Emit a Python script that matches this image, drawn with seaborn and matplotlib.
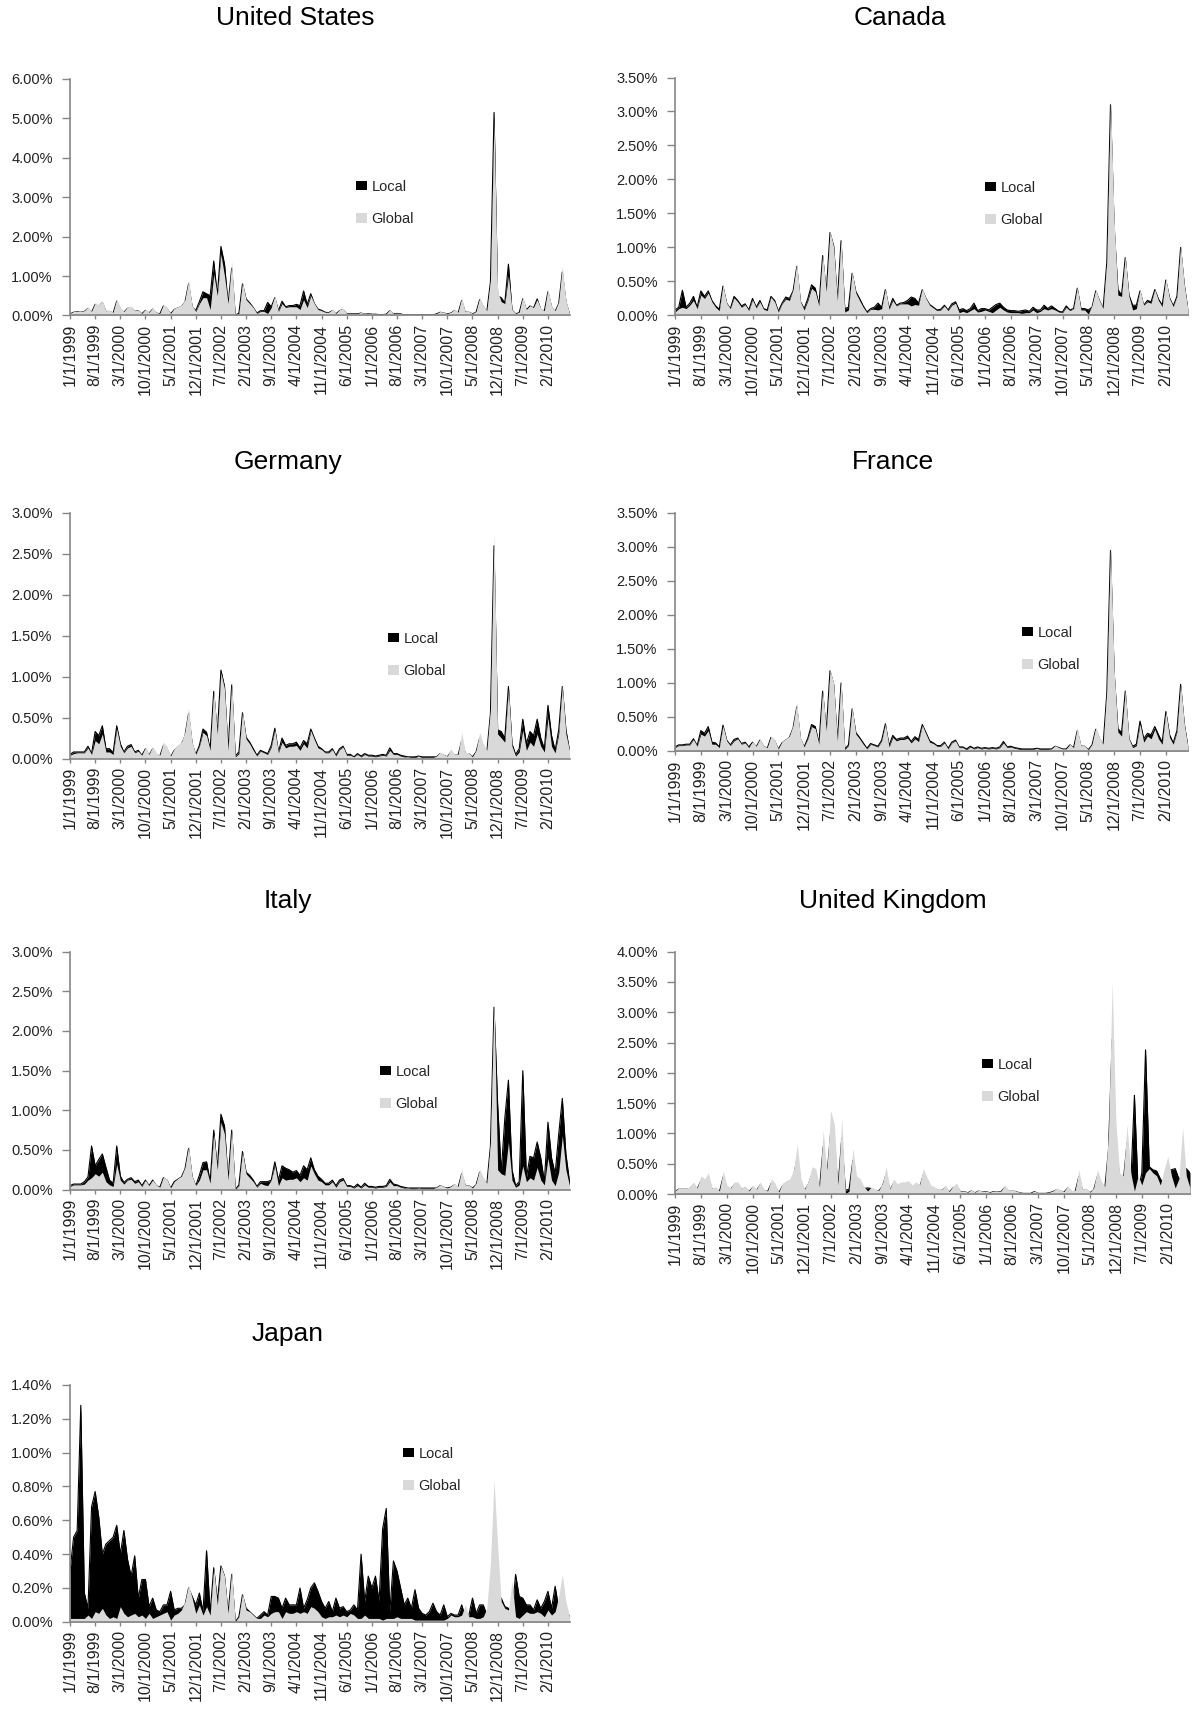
import numpy as np
import pandas as pd
import matplotlib
matplotlib.use('Agg')
import matplotlib.pyplot as plt
import seaborn as sns
from matplotlib.patches import Patch
from matplotlib.ticker import FuncFormatter, MultipleLocator

W, H = 1194, 1711

# x axis: monthly observations Jan 1999 - Aug 2010
months = pd.date_range('1999-01-01', periods=140, freq='MS')
tick_idx = list(range(0, 140, 7))
tick_labels = [f'{d.month}/1/{d.year}' for d in months[tick_idx]]

# values in percent
us_global = [
    0.05, 0.10, 0.10, 0.10, 0.12, 0.22, 0.10, 0.32, 0.27, 0.38, 0.12, 0.13, 0.08, 0.42,
    0.20, 0.10, 0.22, 0.23, 0.12, 0.14, 0.05, 0.16, 0.08, 0.20, 0.08, 0.05, 0.28, 0.20,
    0.05, 0.18, 0.22, 0.26, 0.40, 0.90, 0.25, 0.10, 0.30, 0.45, 0.45, 0.15, 1.05, 0.50,
    1.55, 1.00, 0.30, 1.38, 0.00, 0.05, 0.85, 0.40, 0.30, 0.20, 0.05, 0.10, 0.10, 0.05,
    0.20, 0.50, 0.10, 0.30, 0.20, 0.22, 0.22, 0.22, 0.15, 0.40, 0.20, 0.50, 0.30, 0.15,
    0.12, 0.08, 0.08, 0.15, 0.05, 0.15, 0.18, 0.05, 0.05, 0.05, 0.05, 0.08, 0.04, 0.05,
    0.04, 0.04, 0.03, 0.03, 0.04, 0.15, 0.05, 0.06, 0.05, 0.02, 0.02, 0.02, 0.02, 0.02,
    0.03, 0.02, 0.02, 0.02, 0.05, 0.10, 0.08, 0.05, 0.08, 0.15, 0.08, 0.45, 0.10, 0.10,
    0.05, 0.10, 0.45, 0.25, 0.12, 0.90, 4.95, 0.60, 0.35, 0.30, 1.00, 0.15, 0.05, 0.08,
    0.48, 0.15, 0.25, 0.20, 0.40, 0.18, 0.12, 0.68, 0.25, 0.12, 0.35, 1.25, 0.40, 0.05]
us_local = [
    0.04, 0.08, 0.09, 0.08, 0.10, 0.18, 0.08, 0.28, 0.22, 0.33, 0.10, 0.10, 0.06, 0.36,
    0.16, 0.08, 0.18, 0.20, 0.10, 0.12, 0.04, 0.13, 0.06, 0.16, 0.06, 0.04, 0.24, 0.17,
    0.04, 0.15, 0.19, 0.22, 0.34, 0.80, 0.22, 0.12, 0.35, 0.60, 0.55, 0.50, 1.38, 0.50,
    1.75, 1.30, 0.28, 1.20, 0.00, 0.06, 0.80, 0.42, 0.32, 0.20, 0.06, 0.12, 0.12, 0.33,
    0.22, 0.45, 0.12, 0.36, 0.22, 0.25, 0.25, 0.28, 0.25, 0.62, 0.28, 0.55, 0.30, 0.16,
    0.13, 0.08, 0.07, 0.12, 0.04, 0.12, 0.15, 0.04, 0.04, 0.04, 0.04, 0.06, 0.03, 0.04,
    0.03, 0.03, 0.02, 0.02, 0.03, 0.12, 0.04, 0.05, 0.04, 0.01, 0.01, 0.01, 0.01, 0.01,
    0.02, 0.01, 0.01, 0.01, 0.04, 0.08, 0.06, 0.04, 0.06, 0.12, 0.06, 0.38, 0.08, 0.08,
    0.04, 0.08, 0.40, 0.22, 0.10, 0.85, 5.15, 0.50, 0.45, 0.32, 1.30, 0.14, 0.04, 0.07,
    0.42, 0.14, 0.24, 0.19, 0.42, 0.15, 0.11, 0.60, 0.22, 0.10, 0.30, 1.10, 0.35, 0.04]

ca_global = [
    0.05, 0.10, 0.12, 0.10, 0.15, 0.22, 0.10, 0.30, 0.25, 0.33, 0.20, 0.12, 0.07, 0.45,
    0.18, 0.10, 0.26, 0.20, 0.12, 0.16, 0.07, 0.23, 0.11, 0.20, 0.09, 0.07, 0.27, 0.20,
    0.05, 0.17, 0.24, 0.22, 0.38, 0.78, 0.20, 0.08, 0.22, 0.40, 0.35, 0.14, 0.92, 0.35,
    1.25, 1.00, 0.22, 1.15, 0.05, 0.08, 0.65, 0.33, 0.22, 0.12, 0.04, 0.09, 0.09, 0.08,
    0.10, 0.40, 0.09, 0.22, 0.14, 0.17, 0.17, 0.17, 0.14, 0.16, 0.15, 0.40, 0.25, 0.15,
    0.11, 0.07, 0.08, 0.14, 0.07, 0.15, 0.18, 0.04, 0.06, 0.04, 0.07, 0.10, 0.05, 0.06,
    0.08, 0.06, 0.04, 0.08, 0.12, 0.08, 0.05, 0.04, 0.04, 0.04, 0.03, 0.04, 0.04, 0.08,
    0.04, 0.06, 0.10, 0.08, 0.10, 0.08, 0.05, 0.04, 0.12, 0.07, 0.10, 0.42, 0.08, 0.08,
    0.02, 0.15, 0.38, 0.22, 0.10, 0.80, 3.20, 1.40, 0.30, 0.28, 0.88, 0.28, 0.08, 0.10,
    0.38, 0.15, 0.20, 0.18, 0.38, 0.22, 0.13, 0.55, 0.25, 0.13, 0.28, 1.05, 0.45, 0.08]
ca_local = [
    0.08, 0.12, 0.37, 0.12, 0.18, 0.28, 0.12, 0.36, 0.28, 0.36, 0.22, 0.14, 0.09, 0.43,
    0.18, 0.10, 0.28, 0.22, 0.14, 0.17, 0.08, 0.25, 0.12, 0.22, 0.10, 0.08, 0.28, 0.22,
    0.06, 0.18, 0.27, 0.25, 0.36, 0.72, 0.20, 0.10, 0.25, 0.45, 0.40, 0.15, 0.88, 0.35,
    1.22, 1.02, 0.22, 1.10, 0.10, 0.12, 0.62, 0.35, 0.25, 0.14, 0.05, 0.10, 0.12, 0.18,
    0.12, 0.38, 0.10, 0.25, 0.15, 0.18, 0.19, 0.22, 0.27, 0.25, 0.18, 0.38, 0.25, 0.16,
    0.12, 0.08, 0.09, 0.15, 0.08, 0.17, 0.20, 0.08, 0.10, 0.07, 0.10, 0.18, 0.07, 0.10,
    0.10, 0.08, 0.12, 0.16, 0.18, 0.12, 0.08, 0.07, 0.07, 0.06, 0.07, 0.08, 0.06, 0.12,
    0.08, 0.08, 0.15, 0.10, 0.14, 0.10, 0.06, 0.05, 0.14, 0.08, 0.10, 0.40, 0.10, 0.10,
    0.08, 0.12, 0.36, 0.22, 0.10, 0.78, 3.10, 1.30, 0.38, 0.30, 0.85, 0.30, 0.15, 0.15,
    0.36, 0.15, 0.22, 0.20, 0.38, 0.24, 0.15, 0.52, 0.26, 0.14, 0.28, 1.00, 0.45, 0.08]

de_global = [
    0.04, 0.06, 0.07, 0.07, 0.07, 0.13, 0.05, 0.22, 0.18, 0.30, 0.08, 0.08, 0.05, 0.36,
    0.15, 0.07, 0.13, 0.15, 0.07, 0.09, 0.04, 0.14, 0.05, 0.15, 0.07, 0.04, 0.20, 0.15,
    0.03, 0.12, 0.17, 0.20, 0.33, 0.62, 0.20, 0.05, 0.15, 0.32, 0.28, 0.10, 0.85, 0.30,
    1.05, 0.85, 0.10, 0.95, 0.02, 0.06, 0.58, 0.24, 0.18, 0.10, 0.03, 0.09, 0.07, 0.05,
    0.14, 0.35, 0.07, 0.20, 0.13, 0.15, 0.15, 0.16, 0.10, 0.18, 0.13, 0.34, 0.23, 0.13,
    0.11, 0.07, 0.07, 0.11, 0.03, 0.11, 0.14, 0.04, 0.04, 0.02, 0.05, 0.02, 0.05, 0.03,
    0.03, 0.02, 0.03, 0.04, 0.03, 0.10, 0.05, 0.05, 0.03, 0.02, 0.02, 0.01, 0.01, 0.03,
    0.01, 0.01, 0.01, 0.01, 0.03, 0.08, 0.05, 0.03, 0.12, 0.05, 0.05, 0.32, 0.08, 0.07,
    0.02, 0.10, 0.32, 0.18, 0.10, 0.60, 2.77, 0.30, 0.25, 0.20, 0.85, 0.15, 0.03, 0.08,
    0.35, 0.10, 0.20, 0.15, 0.30, 0.15, 0.08, 0.50, 0.15, 0.07, 0.30, 0.90, 0.30, 0.10]
de_local = [
    0.05, 0.08, 0.08, 0.08, 0.08, 0.15, 0.06, 0.33, 0.28, 0.40, 0.12, 0.12, 0.07, 0.40,
    0.18, 0.08, 0.15, 0.17, 0.08, 0.10, 0.04, 0.12, 0.04, 0.12, 0.05, 0.03, 0.16, 0.12,
    0.02, 0.10, 0.14, 0.17, 0.28, 0.55, 0.18, 0.05, 0.16, 0.36, 0.32, 0.11, 0.82, 0.30,
    1.08, 0.88, 0.10, 0.90, 0.03, 0.08, 0.56, 0.26, 0.20, 0.12, 0.04, 0.10, 0.08, 0.06,
    0.16, 0.37, 0.08, 0.25, 0.16, 0.18, 0.18, 0.20, 0.13, 0.22, 0.18, 0.36, 0.25, 0.15,
    0.12, 0.08, 0.08, 0.12, 0.04, 0.12, 0.15, 0.05, 0.05, 0.02, 0.06, 0.03, 0.06, 0.04,
    0.04, 0.03, 0.04, 0.05, 0.04, 0.13, 0.06, 0.06, 0.04, 0.03, 0.02, 0.02, 0.02, 0.03,
    0.02, 0.02, 0.02, 0.02, 0.02, 0.06, 0.04, 0.02, 0.08, 0.04, 0.04, 0.22, 0.06, 0.06,
    0.02, 0.08, 0.25, 0.15, 0.08, 0.55, 2.60, 0.35, 0.33, 0.25, 0.88, 0.18, 0.05, 0.12,
    0.48, 0.18, 0.33, 0.28, 0.48, 0.25, 0.12, 0.65, 0.28, 0.10, 0.35, 0.88, 0.35, 0.10]

fr_global = [
    0.05, 0.08, 0.08, 0.09, 0.09, 0.17, 0.07, 0.25, 0.22, 0.30, 0.10, 0.10, 0.05, 0.37,
    0.15, 0.08, 0.15, 0.18, 0.10, 0.12, 0.05, 0.14, 0.07, 0.18, 0.08, 0.05, 0.22, 0.17,
    0.03, 0.14, 0.18, 0.22, 0.38, 0.72, 0.20, 0.06, 0.18, 0.36, 0.33, 0.10, 0.92, 0.30,
    1.20, 1.00, 0.15, 1.07, 0.02, 0.08, 0.65, 0.25, 0.18, 0.10, 0.03, 0.10, 0.08, 0.06,
    0.15, 0.40, 0.06, 0.20, 0.15, 0.17, 0.17, 0.19, 0.12, 0.18, 0.14, 0.38, 0.25, 0.13,
    0.11, 0.07, 0.07, 0.12, 0.03, 0.12, 0.15, 0.05, 0.05, 0.02, 0.06, 0.03, 0.05, 0.03,
    0.04, 0.03, 0.04, 0.03, 0.05, 0.12, 0.05, 0.06, 0.04, 0.03, 0.02, 0.02, 0.02, 0.02,
    0.04, 0.02, 0.02, 0.02, 0.03, 0.08, 0.05, 0.03, 0.03, 0.10, 0.05, 0.35, 0.08, 0.08,
    0.02, 0.10, 0.35, 0.20, 0.10, 0.90, 3.05, 1.20, 0.28, 0.22, 0.90, 0.18, 0.05, 0.08,
    0.40, 0.13, 0.22, 0.18, 0.32, 0.18, 0.10, 0.58, 0.20, 0.10, 0.28, 1.00, 0.40, 0.05]
fr_local = [
    0.06, 0.09, 0.09, 0.10, 0.10, 0.18, 0.08, 0.30, 0.26, 0.36, 0.13, 0.12, 0.06, 0.38,
    0.16, 0.09, 0.17, 0.19, 0.11, 0.13, 0.06, 0.13, 0.06, 0.16, 0.07, 0.04, 0.20, 0.15,
    0.03, 0.12, 0.16, 0.20, 0.34, 0.65, 0.18, 0.06, 0.19, 0.39, 0.36, 0.11, 0.88, 0.30,
    1.18, 0.98, 0.15, 1.00, 0.03, 0.09, 0.62, 0.27, 0.20, 0.12, 0.04, 0.11, 0.09, 0.07,
    0.16, 0.40, 0.08, 0.23, 0.17, 0.19, 0.19, 0.22, 0.14, 0.21, 0.17, 0.39, 0.27, 0.15,
    0.12, 0.08, 0.08, 0.13, 0.04, 0.13, 0.16, 0.06, 0.06, 0.03, 0.07, 0.04, 0.06, 0.04,
    0.05, 0.04, 0.05, 0.04, 0.06, 0.14, 0.06, 0.07, 0.05, 0.04, 0.03, 0.03, 0.03, 0.03,
    0.04, 0.03, 0.03, 0.03, 0.03, 0.07, 0.05, 0.03, 0.03, 0.09, 0.05, 0.30, 0.07, 0.07,
    0.02, 0.09, 0.32, 0.18, 0.09, 0.85, 2.95, 1.15, 0.33, 0.27, 0.88, 0.18, 0.07, 0.10,
    0.44, 0.18, 0.26, 0.24, 0.36, 0.24, 0.13, 0.58, 0.24, 0.12, 0.30, 0.98, 0.40, 0.06]

it_global = [
    0.04, 0.06, 0.06, 0.06, 0.07, 0.12, 0.15, 0.20, 0.17, 0.22, 0.10, 0.06, 0.04, 0.32,
    0.12, 0.07, 0.12, 0.13, 0.08, 0.10, 0.04, 0.12, 0.05, 0.12, 0.06, 0.03, 0.16, 0.13,
    0.02, 0.10, 0.14, 0.17, 0.28, 0.55, 0.17, 0.05, 0.12, 0.25, 0.25, 0.08, 0.70, 0.25,
    0.85, 0.70, 0.12, 0.78, 0.00, 0.05, 0.48, 0.20, 0.15, 0.10, 0.03, 0.08, 0.06, 0.05,
    0.12, 0.30, 0.05, 0.15, 0.12, 0.13, 0.13, 0.15, 0.10, 0.15, 0.12, 0.30, 0.20, 0.12,
    0.10, 0.06, 0.06, 0.10, 0.03, 0.10, 0.12, 0.04, 0.04, 0.02, 0.05, 0.02, 0.06, 0.03,
    0.03, 0.02, 0.03, 0.03, 0.04, 0.10, 0.05, 0.05, 0.03, 0.02, 0.02, 0.01, 0.01, 0.02,
    0.01, 0.01, 0.01, 0.01, 0.03, 0.06, 0.04, 0.02, 0.04, 0.08, 0.04, 0.25, 0.06, 0.06,
    0.02, 0.08, 0.26, 0.15, 0.08, 0.60, 2.40, 0.25, 0.20, 0.18, 0.60, 0.12, 0.03, 0.06,
    0.30, 0.10, 0.15, 0.12, 0.28, 0.12, 0.06, 0.40, 0.12, 0.05, 0.22, 0.68, 0.25, 0.05]
it_local = [
    0.05, 0.07, 0.07, 0.07, 0.10, 0.16, 0.55, 0.30, 0.38, 0.45, 0.28, 0.12, 0.08, 0.55,
    0.17, 0.09, 0.13, 0.15, 0.10, 0.12, 0.05, 0.12, 0.05, 0.12, 0.05, 0.03, 0.15, 0.12,
    0.02, 0.10, 0.13, 0.16, 0.26, 0.52, 0.16, 0.05, 0.18, 0.34, 0.35, 0.10, 0.75, 0.26,
    0.95, 0.80, 0.12, 0.75, 0.00, 0.06, 0.48, 0.22, 0.18, 0.12, 0.04, 0.10, 0.10, 0.10,
    0.12, 0.35, 0.12, 0.30, 0.27, 0.25, 0.22, 0.24, 0.18, 0.30, 0.25, 0.40, 0.25, 0.17,
    0.13, 0.08, 0.08, 0.12, 0.05, 0.12, 0.14, 0.05, 0.05, 0.03, 0.07, 0.03, 0.08, 0.04,
    0.04, 0.03, 0.04, 0.04, 0.05, 0.13, 0.07, 0.06, 0.04, 0.03, 0.02, 0.02, 0.02, 0.02,
    0.02, 0.02, 0.02, 0.02, 0.02, 0.05, 0.03, 0.02, 0.03, 0.06, 0.03, 0.20, 0.05, 0.05,
    0.02, 0.06, 0.22, 0.13, 0.07, 0.55, 2.30, 1.08, 0.22, 0.90, 1.38, 0.25, 0.05, 0.10,
    1.50, 0.15, 0.42, 0.40, 0.60, 0.40, 0.10, 0.85, 0.40, 0.20, 0.70, 1.15, 0.45, 0.10]

uk_global = [
    0.05, 0.10, 0.10, 0.10, 0.12, 0.20, 0.10, 0.30, 0.25, 0.35, 0.10, 0.12, 0.05, 0.38,
    0.15, 0.10, 0.20, 0.20, 0.10, 0.13, 0.05, 0.15, 0.08, 0.20, 0.08, 0.05, 0.25, 0.18,
    0.03, 0.18, 0.22, 0.25, 0.40, 0.82, 0.25, 0.08, 0.22, 0.45, 0.42, 0.12, 1.05, 0.40,
    1.38, 1.15, 0.15, 1.25, 0.00, 0.05, 0.75, 0.30, 0.25, 0.12, 0.05, 0.12, 0.08, 0.06,
    0.18, 0.45, 0.08, 0.25, 0.17, 0.20, 0.20, 0.22, 0.15, 0.20, 0.15, 0.42, 0.28, 0.15,
    0.12, 0.08, 0.08, 0.15, 0.04, 0.13, 0.18, 0.05, 0.05, 0.03, 0.07, 0.03, 0.07, 0.04,
    0.05, 0.03, 0.05, 0.04, 0.05, 0.15, 0.07, 0.07, 0.05, 0.03, 0.02, 0.02, 0.02, 0.05,
    0.02, 0.02, 0.02, 0.03, 0.05, 0.10, 0.07, 0.04, 0.14, 0.06, 0.06, 0.40, 0.08, 0.10,
    0.03, 0.10, 0.40, 0.22, 0.12, 1.00, 3.50, 1.20, 0.35, 0.30, 1.15, 0.35, 0.05, 0.30,
    0.15, 0.35, 0.42, 0.35, 0.30, 0.15, 0.40, 0.62, 0.30, 0.10, 0.25, 1.10, 0.30, 0.10]
uk_local = [
    0.04, 0.08, 0.08, 0.08, 0.09, 0.15, 0.08, 0.22, 0.18, 0.26, 0.08, 0.09, 0.04, 0.28,
    0.11, 0.08, 0.15, 0.15, 0.08, 0.10, 0.04, 0.11, 0.06, 0.15, 0.06, 0.04, 0.18, 0.13,
    0.02, 0.13, 0.16, 0.18, 0.30, 0.60, 0.18, 0.06, 0.16, 0.33, 0.31, 0.09, 0.78, 0.30,
    1.00, 0.85, 0.11, 0.92, 0.06, 0.08, 0.55, 0.22, 0.18, 0.09, 0.10, 0.09, 0.06, 0.05,
    0.13, 0.33, 0.06, 0.18, 0.12, 0.15, 0.15, 0.16, 0.11, 0.15, 0.11, 0.31, 0.21, 0.11,
    0.09, 0.06, 0.06, 0.11, 0.03, 0.10, 0.13, 0.04, 0.04, 0.02, 0.05, 0.02, 0.05, 0.03,
    0.04, 0.02, 0.04, 0.03, 0.04, 0.11, 0.05, 0.05, 0.04, 0.02, 0.01, 0.01, 0.01, 0.04,
    0.01, 0.01, 0.01, 0.02, 0.04, 0.07, 0.05, 0.03, 0.10, 0.04, 0.04, 0.29, 0.06, 0.07,
    0.02, 0.07, 0.29, 0.16, 0.09, 0.73, 2.55, 0.88, 0.26, 0.22, 0.84, 0.15, 1.63, 0.05,
    0.35, 2.38, 0.45, 0.40, 0.38, 0.25, 0.15, 0.40, 0.40, 0.42, 0.25, 0.30, 0.42, 0.35]

jp_global = [
    0.02, 0.02, 0.02, 0.02, 0.02, 0.04, 0.02, 0.06, 0.05, 0.08, 0.04, 0.02, 0.03, 0.02,
    0.09, 0.05, 0.03, 0.04, 0.05, 0.03, 0.04, 0.02, 0.05, 0.02, 0.03, 0.04, 0.05, 0.06,
    0.01, 0.04, 0.05, 0.07, 0.12, 0.22, 0.14, 0.05, 0.10, 0.04, 0.09, 0.04, 0.32, 0.10,
    0.33, 0.27, 0.05, 0.31, 0.00, 0.03, 0.17, 0.07, 0.06, 0.04, 0.02, 0.02, 0.04, 0.03,
    0.05, 0.06, 0.06, 0.02, 0.06, 0.05, 0.05, 0.06, 0.05, 0.06, 0.05, 0.09, 0.08, 0.06,
    0.03, 0.02, 0.03, 0.03, 0.04, 0.03, 0.04, 0.03, 0.05, 0.04, 0.02, 0.02, 0.04, 0.02,
    0.02, 0.02, 0.02, 0.01, 0.02, 0.02, 0.02, 0.03, 0.02, 0.02, 0.02, 0.02, 0.01, 0.01,
    0.01, 0.01, 0.01, 0.01, 0.01, 0.01, 0.01, 0.02, 0.04, 0.03, 0.03, 0.04, 0.10, 0.03,
    0.03, 0.02, 0.02, 0.03, 0.08, 0.35, 0.84, 0.45, 0.12, 0.08, 0.07, 0.24, 0.03, 0.02,
    0.04, 0.06, 0.05, 0.05, 0.06, 0.05, 0.03, 0.07, 0.04, 0.06, 0.15, 0.28, 0.12, 0.03]
jp_local = [
    0.30, 0.50, 0.54, 1.28, 0.17, 0.08, 0.68, 0.77, 0.62, 0.40, 0.46, 0.48, 0.50, 0.57,
    0.40, 0.54, 0.37, 0.27, 0.39, 0.14, 0.25, 0.25, 0.09, 0.14, 0.07, 0.06, 0.10, 0.10,
    0.18, 0.07, 0.08, 0.08, 0.10, 0.20, 0.15, 0.10, 0.17, 0.06, 0.42, 0.05, 0.32, 0.12,
    0.33, 0.27, 0.05, 0.28, 0.00, 0.03, 0.16, 0.08, 0.06, 0.04, 0.02, 0.04, 0.06, 0.04,
    0.15, 0.15, 0.14, 0.08, 0.14, 0.10, 0.10, 0.10, 0.20, 0.08, 0.13, 0.20, 0.23, 0.18,
    0.12, 0.08, 0.12, 0.06, 0.14, 0.08, 0.09, 0.06, 0.07, 0.10, 0.07, 0.40, 0.12, 0.27,
    0.20, 0.27, 0.12, 0.55, 0.67, 0.06, 0.36, 0.30, 0.20, 0.10, 0.14, 0.08, 0.19, 0.08,
    0.05, 0.04, 0.06, 0.11, 0.06, 0.04, 0.10, 0.03, 0.05, 0.04, 0.04, 0.10, 0.03, 0.04,
    0.14, 0.05, 0.10, 0.10, 0.04, 0.02, 0.02, 0.05, 0.14, 0.09, 0.08, 0.05, 0.28, 0.15,
    0.14, 0.10, 0.10, 0.07, 0.13, 0.08, 0.12, 0.18, 0.08, 0.21, 0.08, 0.10, 0.08, 0.03]

GRAY = '#d9d9d9'
AXIS = '#868686'

sns.set_theme(style='white')
plt.rcParams['font.family'] = ['Liberation Sans', 'DejaVu Sans']

fig = plt.figure(figsize=(W / 100, H / 100), dpi=100)

# title, local, global, ymax, step, axes box (px: left, top, right, bottom), title pos, legend pos
panels = [
    ('United States', us_local, us_global, 6.0, 1.0, (70, 79, 569.5, 315.4), (295, 18), (360, 203)),
    ('Canada', ca_local, ca_global, 3.5, 0.5, (675, 77.5, 1188, 315.4), (900, 18), (989, 204)),
    ('Germany', de_local, de_global, 3.0, 0.5, (70, 513, 569.5, 758.5), (288, 462), (392, 655)),
    ('France', fr_local, fr_global, 3.5, 0.5, (675, 513, 1188, 751), (893, 462), (1026, 649)),
    ('Italy', it_local, it_global, 3.0, 0.5, (70, 951.7, 569.5, 1189.6), (288, 901), (384, 1088)),
    ('United Kingdom', uk_local, uk_global, 4.0, 0.5, (675, 951.7, 1190, 1194), (893, 901), (986, 1081)),
    ('Japan', jp_local, jp_global, 1.4, 0.2, (70, 1385, 569.5, 1621.8), (288, 1334), (407, 1470)),
]

for title, local, glob, ymax, step, box, tpos, lpos in panels:
    assert len(local) == 140 and len(glob) == 140
    l, t, r, b = box
    ax = fig.add_axes([l / W, 1 - b / H, (r - l) / W, (b - t) / H])
    df = pd.DataFrame({'idx': np.arange(140), 'Local': local, 'Global': glob})

    # Local area behind, Global area drawn over it
    ax.fill_between(df['idx'], 0, df['Local'], color='black', lw=0, zorder=1)
    sns.lineplot(data=df, x='idx', y='Local', ax=ax, color='black', lw=0.8, zorder=1.5)
    ax.fill_between(df['idx'], 0, df['Global'], color=GRAY, lw=0, zorder=2)

    ax.set_xlim(0, 139)
    ax.set_ylim(0, ymax)
    ax.set_xlabel('')
    ax.set_ylabel('')
    ax.set_xticks(tick_idx)
    ax.set_xticklabels(tick_labels, rotation=90, fontsize=11.5, color='#222222')
    ax.yaxis.set_major_locator(MultipleLocator(step))
    ax.yaxis.set_major_formatter(FuncFormatter(lambda v, p: f'{v:.2f}%'))
    ax.tick_params(axis='y', labelsize=10.5, labelcolor='#222222', length=5.5,
                   width=1, color=AXIS, direction='out', pad=7, left=True)
    ax.tick_params(axis='x', length=3, width=1, color=AXIS, direction='out', pad=3, bottom=True)
    for s in ['top', 'right']:
        ax.spines[s].set_visible(False)
    for s in ['left', 'bottom']:
        ax.spines[s].set_color(AXIS)
        ax.spines[s].set_linewidth(1.2)
        ax.spines[s].set_zorder(3)
    ax.grid(False)

    fig.text(tpos[0] / W, 1 - tpos[1] / H, title, ha='center', va='center', fontsize=19, color='black')

    handles = [Patch(facecolor='black', edgecolor='none', label='Local'),
               Patch(facecolor=GRAY, edgecolor='none', label='Global')]
    ax.legend(handles=handles, loc='center left', frameon=False,
              bbox_to_anchor=((lpos[0] - 4) / W, 1 - lpos[1] / H), bbox_transform=fig.transFigure,
              fontsize=10.5, handlelength=0.75, handleheight=0.6, handletextpad=0.3,
              labelspacing=1.25, borderpad=0, borderaxespad=0)

fig.savefig('out.png', dpi=100)
